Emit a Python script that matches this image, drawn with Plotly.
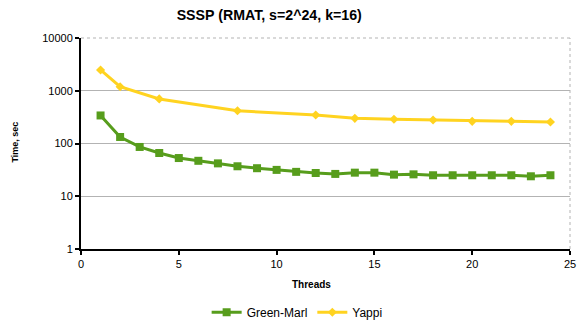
import plotly.graph_objects as go

threads_gm = list(range(1, 25))
time_gm = [340, 133, 86, 66, 53, 47, 42, 37, 34, 31.6, 29, 27.6, 26.5, 28, 28,
           25.7, 26, 25, 25, 25, 25, 25, 23.9, 25]
threads_yappi = [1, 2, 4, 8, 12, 14, 16, 18, 20, 22, 24]
time_yappi = [2480, 1194, 700, 418, 347, 300, 288, 279, 263, 263, 256]
y_ticks = [1, 10, 100, 1000, 10000]
x_ticks = [0, 5, 10, 15, 20, 25]

FONT = "Liberation Sans, Arial, sans-serif"

fig = go.Figure()
fig.add_trace(go.Scatter(x=threads_gm, y=time_gm, name="Green-Marl", mode="lines+markers",
                         line=dict(color="#579d1c", width=3),
                         marker=dict(symbol="square", size=8, color="#579d1c")))
fig.add_trace(go.Scatter(x=threads_yappi, y=time_yappi, name="Yappi", mode="lines+markers",
                         line=dict(color="#ffd320", width=3),
                         marker=dict(symbol="diamond", size=7, color="#ffd320")))

fig.update_layout(
    width=579, height=320,
    margin=dict(l=81, r=9, t=38, b=71, autoexpand=False),
    paper_bgcolor="white", plot_bgcolor="white",
    font=dict(family=FONT, size=11, color="black"),
    title=dict(text="<b>SSSP (RMAT, s=2^24, k=16)</b>", x=0.465, xref="container",
               xanchor="center", y=0.953, yref="container", yanchor="middle",
               font=dict(size=14.2, family=FONT, color="black"), automargin=False),
    xaxis=dict(range=[0, 25], tickvals=x_ticks, showgrid=False, zeroline=False,
               showline=True, linecolor="black", linewidth=2, automargin=False,
               ticks="outside", ticklen=4, tickwidth=2, tickcolor="black"),
    yaxis=dict(type="log", range=[0, 4], tickvals=y_ticks, ticktext=[str(v) for v in y_ticks],
               showgrid=True, gridcolor="#b3b3b3", gridwidth=1, zeroline=False,
               showline=True, linecolor="black", linewidth=2, automargin=False,
               ticks="outside", ticklen=4, tickwidth=2, tickcolor="black"),
    legend=dict(orientation="h", x=0.442, xanchor="center",
                y=-0.30, yanchor="middle",
                font=dict(size=12), itemwidth=30, tracegroupgap=0),
    showlegend=True,
)
# axis titles
fig.add_annotation(text="<b>Threads</b>", xref="paper", yref="paper",
                   x=(311 - 81) / 489, y=-(284 - 249) / 211, xanchor="center", yanchor="middle",
                   showarrow=False, font=dict(size=10))
fig.add_annotation(text="<b>Time, sec</b>", xref="paper", yref="paper",
                   x=-(81 - 14) / 489, y=(249 - 142.5) / 211, xanchor="center", yanchor="middle",
                   textangle=-90, showarrow=False, font=dict(size=9))
fig.add_shape(type="line", xref="paper", yref="paper", x0=0, x1=1, y0=1, y1=1,
              line=dict(color="#b3b3b3", width=1, dash="dot"))
fig.add_shape(type="line", xref="paper", yref="paper", x0=1, x1=1, y0=0, y1=1,
              line=dict(color="#b3b3b3", width=1, dash="dot"))

fig.write_html("out.html", config={"displayModeBar": False},
               post_script="document.body.style.margin='0';document.body.style.overflow='hidden';")
